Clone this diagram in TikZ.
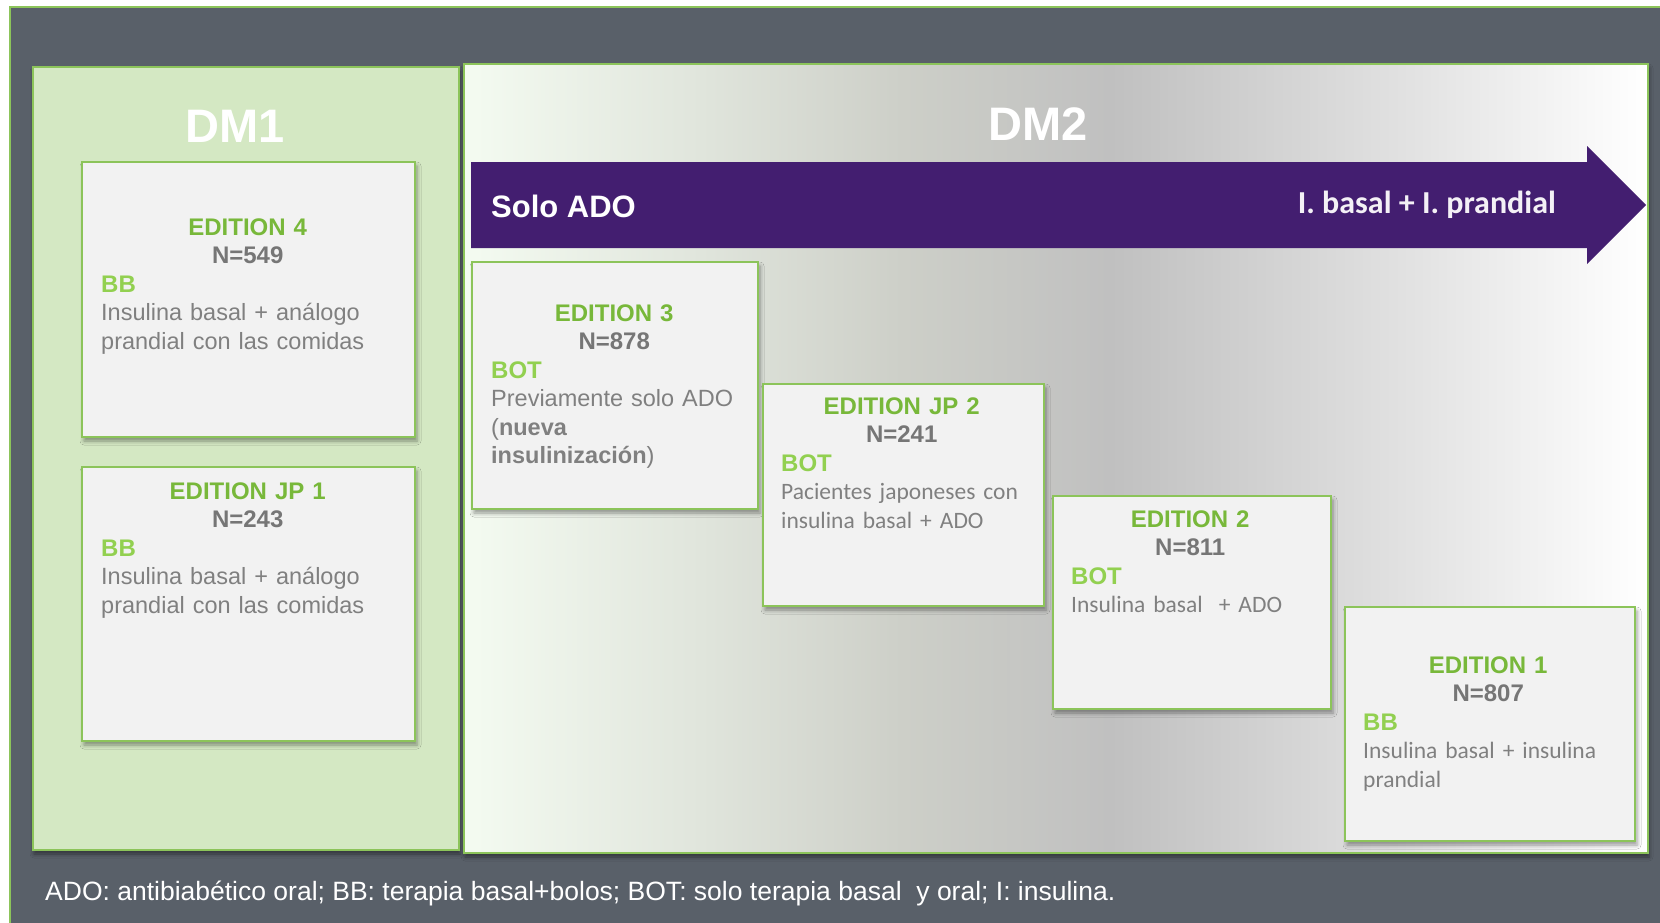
\documentclass[tikz,border=0pt]{standalone}
\usepackage{fontspec}
\setmainfont{Liberation Sans}
\newfontfamily\calibri{Carlito}
\usetikzlibrary{shadows.blur}
\definecolor{slate}{RGB}{89,96,105}
\definecolor{dmgreen}{RGB}{212,232,195}
\definecolor{edge}{RGB}{140,196,90}
\definecolor{edgreen}{RGB}{120,184,58}
\definecolor{taggreen}{RGB}{146,208,80}
\definecolor{ngray}{RGB}{118,118,118}
\definecolor{bodygray}{RGB}{128,128,128}
\definecolor{ado}{RGB}{67,30,112}
\definecolor{cardgray}{RGB}{242,242,242}
\definecolor{gA}{RGB}{244,251,241}
\definecolor{gB}{RGB}{224,229,220}
\definecolor{gC}{RGB}{205,207,200}
\definecolor{gD}{RGB}{192,192,192}
\definecolor{gE}{RGB}{225,225,225}
\definecolor{gF}{RGB}{255,255,255}
\pgfdeclarehorizontalshading{dmtwo}{100bp}{color(0bp)=(gA); color(25bp)=(gA); color(35bp)=(gB); color(43.5bp)=(gC); color(52.3bp)=(gD); color(64.6bp)=(gE); color(75bp)=(gF); color(100bp)=(gF)}
\newcommand\arialbody{\mdseries\fontsize{23.5}{28.5}\selectfont}
\newcommand\calbody{\calibri\mdseries\fontsize{23.5}{28.5}\selectfont}
\newcommand\card[5]{\rule{0pt}{20pt}{\centering\color{edgreen}#1\par\color{ngray}N=#2\par}\color{taggreen}#3\par\color{bodygray}#4#5}

\begin{document}
\begin{tikzpicture}[x=1pt,y=-1pt,
    panel/.style={draw=edge, line width=2pt, anchor=north west, inner sep=0,
      blur shadow={shadow xshift=1pt, shadow yshift=-4pt, shadow blur radius=4pt, shadow opacity=45}},
    cardbox/.style={draw=edge, line width=2pt, fill=cardgray, anchor=north west, inner sep=0,
      blur shadow={shadow xshift=2pt, shadow yshift=-4pt, shadow blur radius=4pt, shadow opacity=40}},
    cardtext/.style={anchor=north west, inner sep=0, align=left,
      font=\bfseries\fontsize{24}{28.5}\selectfont},
    title/.style={anchor=base, inner sep=0, text=white, font=\bfseries\fontsize{47}{47}\selectfont}]
    \useasboundingbox (0,0) rectangle (1660,922);
    \fill[white] (0,0) rectangle (1660,922);
    \node[draw=edge, line width=1.5pt, fill=slate, anchor=north west, inner sep=0,
      minimum width=1670pt, minimum height=930pt] (frame) at (9,6) {};
    \node[panel, fill=dmgreen, minimum width=426pt, minimum height=783pt] (dm1) at (32,66) {};
    \node[panel, shading=dmtwo, minimum width=1184pt, minimum height=789pt] (dm2) at (463,63) {};
    \node[title] (dm1t) at (235,142) {DM1};
    \node[title] (dm2t) at (1038,140) {DM2};
    \fill[ado] (471,162) -- (1587,162) -- (1587,146) -- (1646,205) -- (1587,264) -- (1587,248) -- (471,248) -- cycle;
    \node[anchor=base west, inner sep=0, text=white, font=\bfseries\fontsize{31}{31}\selectfont] (solo) at (491,217) {Solo ADO};
    \node[anchor=base east, inner sep=0, text=white!94!ado, font=\calibri\bfseries\fontsize{32}{32}\selectfont] (full) at (1556,213) {I. basal + I. prandial};

    \node[cardbox, minimum width=333pt, minimum height=275pt] (b4) at (81,161) {};
    \node[cardtext, text width=293pt] (e4) at (101,215)
      {\card{EDITION 4}{549}{BB}{\arialbody}{Insulina basal + análogo\par prandial con las comidas}};
    \node[cardbox, minimum width=333pt, minimum height=274pt] (bj1) at (81,466) {};
    \node[cardtext, text width=293pt] (ej1) at (101,479)
      {\card{EDITION JP 1}{243}{BB}{\arialbody}{Insulina basal + análogo\par prandial con las comidas}};
    \node[cardbox, minimum width=286pt, minimum height=247pt] (b3) at (471,261) {};
    \node[cardtext, text width=246pt] (e3) at (491,301)
      {\card{EDITION 3}{878}{BOT}{\arialbody}{\mbox{Previamente solo ADO}\par(\textbf{nueva}\par\textbf{insulinización})}};
    \node[cardbox, minimum width=281pt, minimum height=222pt] (bj2) at (762,383) {};
    \node[cardtext, text width=241pt] (ej2) at (781,394)
      {\card{EDITION JP 2}{241}{BOT}{\calbody}{\mbox{Pacientes japoneses con}\par insulina basal + ADO}};
    \node[cardbox, minimum width=278pt, minimum height=213pt] (b2) at (1052,495) {};
    \node[cardtext, text width=238pt] (e2) at (1071,507)
      {\card{EDITION 2}{811}{BOT}{\calbody}{Insulina basal\ \ + ADO}};
    \node[cardbox, minimum width=290pt, minimum height=234pt] (b1) at (1344,606) {};
    \node[cardtext, text width=250pt] (e1) at (1363,653)
      {\card{EDITION 1}{807}{BB}{\calbody}{\mbox{Insulina basal + insulina}\par prandial}};

    \node[anchor=base west, inner sep=0, text=white, font=\fontsize{26.5}{26.5}\selectfont] (key) at (45,900)
      {ADO: antibiabético oral; BB: terapia basal+bolos; BOT: solo terapia basal\ \ y oral; I: insulina.};
\end{tikzpicture}
\end{document}
